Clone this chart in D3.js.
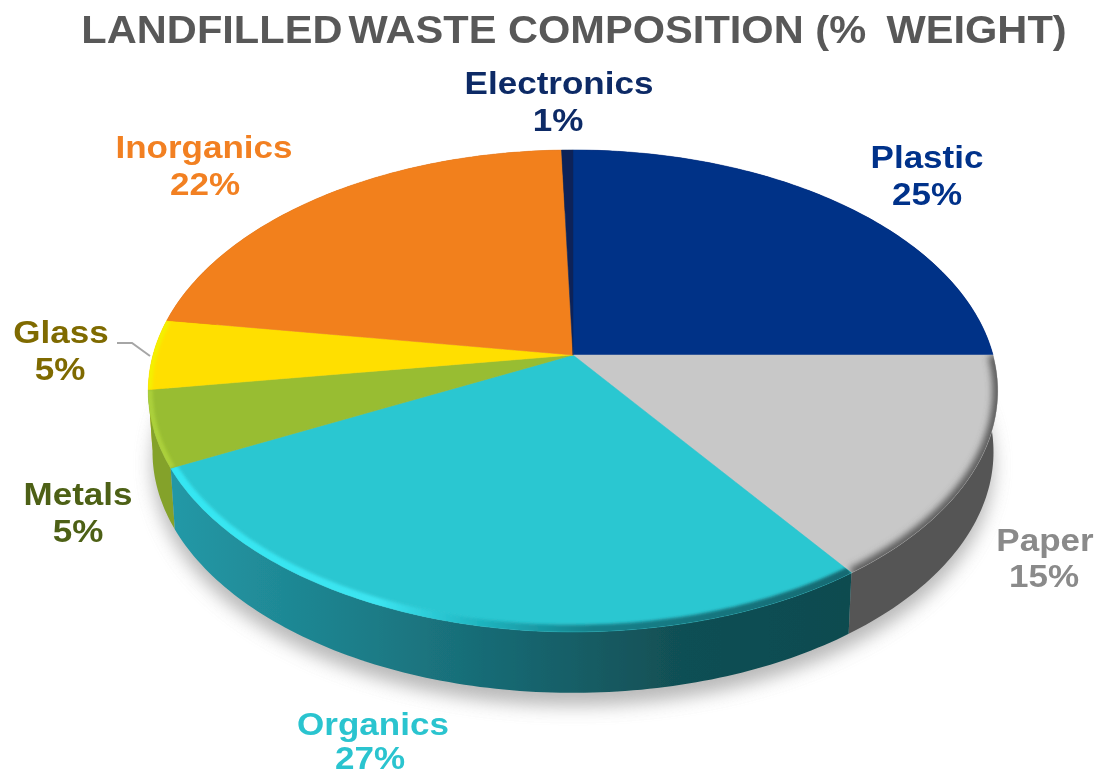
<!DOCTYPE html>
<html>
<head>
<meta charset="utf-8">
<script src="https://cdn.jsdelivr.net/npm/d3@7/dist/d3.min.js"></script>
<style>html,body{margin:0;padding:0;background:#fff}svg{display:block}</style>
</head>
<body>
<svg id="c" width="1102" height="776"></svg>
<script>
const titleWords = ["LANDFILLED","WASTE COMPOSITION (%","WEIGHT)"];
const categories = ["Plastic","Paper","Organics","Metals","Glass","Inorganics","Electronics"];
// slice sizes; printed labels are rounded
const values = [25,15.1,27.5,5.1,4.7,22.1,0.5];
const percentLabels = ["25%","15%","27%","5%","5%","22%","1%"];

// Presentation (not data)
const topColors   = {Plastic:"#003087",Paper:"#c8c8c8",Organics:"#2cc7d1",Metals:"#98bd32",Glass:"#ffdf00",Inorganics:"#f2801e",Electronics:"#0a2458"};
const wallColors  = {Plastic:"#001f58",Paper:"#555555",Organics:"url(#wallOrg)",Metals:"#84a22a",Glass:"#c9b000",Inorganics:"#a85812",Electronics:"#06163a"};
const labelColors = {Plastic:"#00308a",Paper:"#8a8a8a",Organics:"#2bc4cf",Metals:"#4d6114",Glass:"#7f6b00",Inorganics:"#f28020",Electronics:"#0b2a66"};
const labelLayout = {
  Plastic:[927,168,927,205], Paper:[1045,551,1044,587], Organics:[373,735,370,769],
  Metals:[78,505,78,542], Glass:[61,343,60,380], Inorganics:[204,158,205,195], Electronics:[559,94,558,131]
};
const CX=573, CY=355, A=420, B=235.6, K=0.149, DEPTH=61, SHRINK=0.99;
const XS=1.13;

const svg=d3.select("#c");
const defs=svg.append("defs");
const sx=d3.scaleLinear().domain([-1,1]).range([CX-A,CX+A]);
const sy=d3.scaleLinear().domain([-1,1]).range([CY-B,CY+B]);
function proj(a,r=1){
  const X=r*Math.sin(a),Y=-r*Math.cos(a),w=1-K*Y;
  return [sx(X/w),sy(Y/w)];
}
const lower=p=>[CX+(p[0]-CX)*SHRINK,p[1]+DEPTH];
const arcs=d3.pie().sort(null).value((d,i)=>values[i])(categories);
const samples=(a0,a1)=>{const n=Math.max(2,Math.ceil((a1-a0)*60));return d3.range(n+1).map(i=>a0+(a1-a0)*i/n);};
const line=d3.line();

// defs
const g1=defs.append("linearGradient").attr("id","wallOrg").attr("gradientUnits","userSpaceOnUse")
  .attr("x1",175).attr("x2",850).attr("y1",0).attr("y2",0);
[[0,"#2398a6"],[0.2,"#1e8591"],[0.55,"#16626b"],[0.75,"#114f54"],[1,"#0f4b50"]].forEach(s=>g1.append("stop").attr("offset",s[0]).attr("stop-color",s[1]));
const g2=defs.append("linearGradient").attr("id","rimOrg").attr("gradientUnits","userSpaceOnUse")
  .attr("x1",175).attr("x2",850).attr("y1",0).attr("y2",0);
[[0,"#35e6f2"],[0.3,"#3ce4f0"],[0.45,"#1fb5c0"],[0.62,"#14808a"],[1,"#126a72"]].forEach(s=>g2.append("stop").attr("offset",s[0]).attr("stop-color",s[1]));
const blur=(id,d)=>defs.append("filter").attr("id",id).attr("x","-20%").attr("y","-20%").attr("width","140%").attr("height","140%")
  .append("feGaussianBlur").attr("stdDeviation",d);
blur("shadow",9); blur("soft",3.5); blur("soft2",1.4); blur("all",0.55);

const root=svg.append("g").attr("filter","url(#all)");

// ground shadow
const fullBottom=samples(0,2*Math.PI).map(a=>lower(proj(a)));
root.append("path").attr("d",line(fullBottom)+"Z").attr("transform","translate(0,13)")
  .attr("fill","#8a8a8a").attr("opacity",0.6).attr("filter","url(#shadow)");

// walls, back to front: each wall is one path swept quad by quad so the silhouette stays smooth
const wallOrder=["Plastic","Inorganics","Electronics","Glass","Metals","Paper","Organics"];
wallOrder.forEach(name=>{
  const d=arcs[categories.indexOf(name)];
  const t=samples(d.startAngle,d.endAngle).map(a=>proj(a));
  const swept=d3.pairs(t).map(([p,q])=>line([p,q,lower(q),lower(p)])+"Z").join("");
  root.append("path").attr("d",swept).attr("fill",wallColors[name]);
});

// top faces
arcs.forEach((d,i)=>{
  const pts=[proj(0,0)].concat(samples(d.startAngle,d.endAngle).map(a=>proj(a)));
  const id="clip"+i;
  defs.append("clipPath").attr("id",id).append("path").attr("d",line(pts)+"Z");
  const name=categories[i];
  root.append("path").attr("class","slice").attr("d",line(pts)+"Z").attr("fill",topColors[name])
    .attr("stroke",topColors[name]).attr("stroke-width",0.5);
  const rim=samples(d.startAngle,d.endAngle).map(a=>proj(a));
  const g=root.append("g").attr("clip-path",`url(#${id})`);
  const rimStroke=(color,w,f)=>g.append("path").attr("d",line(rim)).attr("fill","none")
    .attr("stroke",color).attr("stroke-width",w).attr("filter",`url(#${f})`);
  if(name==="Paper") rimStroke("#555555",10,"soft");
  if(name==="Organics") rimStroke("url(#rimOrg)",14,"soft2");
  if(name==="Metals") rimStroke("#abd03a",9,"soft2");
  if(name==="Glass") rimStroke("#f4f000",8,"soft2");
});

// leader line for Glass
root.append("path").attr("d",line([[117,343],[132,343],[150,356]])).attr("fill","none").attr("stroke","#a6a6a6").attr("stroke-width",2);

// text
const FONT="'Liberation Sans',Arial,sans-serif";
function stretched(str,cx,y,size,color,scale){
  root.append("text").attr("transform",`translate(${cx},${y}) scale(${scale},1)`)
    .attr("text-anchor","middle").attr("font-family",FONT)
    .attr("font-weight","bold").attr("font-size",size).attr("fill",color).text(str);
}
const title=root.append("text").attr("transform","translate(574,43) scale(1.095,1)")
  .attr("text-anchor","middle").attr("font-family",FONT).attr("font-weight","bold")
  .attr("font-size",38).attr("fill","#595959");
title.selectAll("tspan").data(titleWords).join("tspan")
  .attr("dx",(d,i)=>[0,-5,8][i]).text((d,i)=>(i?" ":"")+d);
categories.forEach((name,i)=>{
  const L=labelLayout[name];
  stretched(name,L[0],L[1],31,labelColors[name],XS);
  stretched(percentLabels[i],L[2],L[3],31,labelColors[name],XS);
});
</script>
</body>
</html>
